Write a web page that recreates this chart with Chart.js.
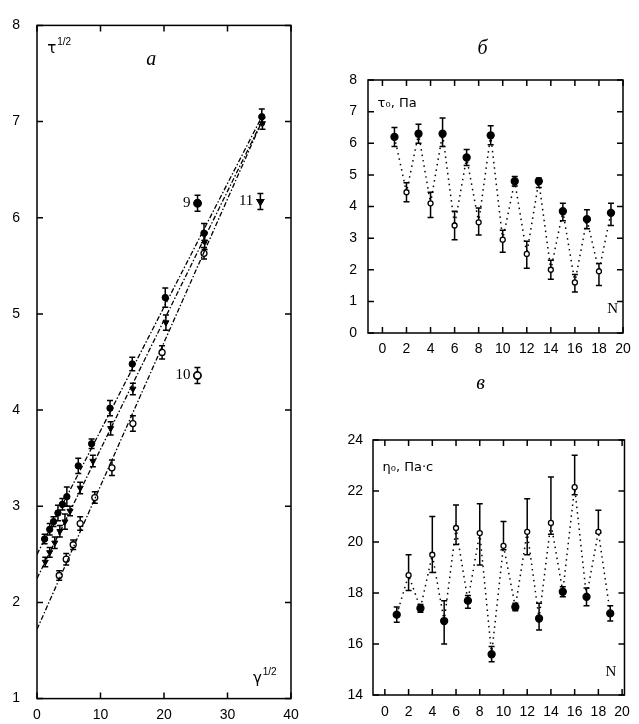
<!DOCTYPE html>
<html>
<head>
<meta charset="utf-8">
<script src="https://cdn.jsdelivr.net/npm/chart.js@4.4.0/dist/chart.umd.min.js"></script>
<style>
    html, body { margin: 0; padding: 0; background: #fff; }
    body { width: 639px; height: 724px; position: relative; overflow: hidden; }
    .panel { position: absolute; }
    #boxA { left: 0; top: 0; width: 310px; height: 724px; }
    #boxB { left: 330px; top: 0; width: 309px; height: 360px; }
    #boxC { left: 330px; top: 360px; width: 309px; height: 364px; }
</style>
</head>
<body>
<div class="panel" id="boxA"><canvas id="chartA"></canvas></div>
<div class="panel" id="boxB"><canvas id="chartB"></canvas></div>
<div class="panel" id="boxC"><canvas id="chartC"></canvas></div>
<script>
// panel a: tau^1/2 against gamma^1/2, three samples (9, 10, 11)
const xTicksA = [0, 10, 20, 30, 40];
const yTicksA = [1, 2, 3, 4, 5, 6, 7, 8];

const gamma9 = [1.2, 2.0, 2.6, 3.3, 4.0, 4.7, 6.5, 8.6, 11.5, 15.0, 20.2, 26.3, 35.4];
const tau9 = [2.66, 2.76, 2.84, 2.93, 3.02, 3.10, 3.42, 3.65, 4.02, 4.48, 5.17, 5.84, 7.05];
const err9 = [0.05, 0.06, 0.05, 0.08, 0.06, 0.10, 0.08, 0.05, 0.08, 0.07, 0.10, 0.10, 0.08];

const gamma11 = [1.3, 2.0, 2.8, 3.6, 4.4, 5.2, 6.8, 8.8, 11.6, 15.1, 20.3, 26.4, 35.5];
const tau11 = [2.42, 2.52, 2.62, 2.74, 2.84, 2.95, 3.19, 3.47, 3.81, 4.22, 4.91, 5.75, 6.98];
const err11 = [0.05, 0.05, 0.06, 0.06, 0.08, 0.05, 0.06, 0.06, 0.07, 0.06, 0.08, 0.08, 0.06];

const gamma10 = [3.5, 4.6, 5.7, 6.8, 9.1, 11.8, 15.1, 19.7, 26.3];
const tau10 = [2.28, 2.45, 2.60, 2.82, 3.09, 3.40, 3.86, 4.60, 5.63];
const err10 = [0.05, 0.06, 0.05, 0.07, 0.06, 0.08, 0.08, 0.07, 0.06];

const fitX = [0, 35.4];
const fit9 = [2.50, 7.05];
const fit11 = [2.25, 7.00];
const fit10 = [1.72, 7.00];

// panel б: tau0 against N
const nTicks = [0, 2, 4, 6, 8, 10, 12, 14, 16, 18, 20];
const yTicksB = [0, 1, 2, 3, 4, 5, 6, 7, 8];
const nValues = [1, 2, 3, 4, 5, 6, 7, 8, 9, 10, 11, 12, 13, 14, 15, 16, 17, 18, 19];
const tau0 = [6.2, 4.45, 6.3, 4.1, 6.3, 3.4, 5.55, 3.5, 6.25, 2.95, 4.8, 2.5, 4.8, 2.0, 3.85, 1.6, 3.6, 1.95, 3.8];
const tau0Up = [0.3, 0.3, 0.3, 0.35, 0.5, 0.45, 0.25, 0.45, 0.3, 0.3, 0.15, 0.4, 0.1, 0.3, 0.25, 0.25, 0.3, 0.25, 0.3];
const tau0Down = [0.3, 0.3, 0.3, 0.45, 0.4, 0.45, 0.25, 0.4, 0.3, 0.4, 0.15, 0.45, 0.2, 0.3, 0.3, 0.3, 0.3, 0.45, 0.4];

// panel в: eta0 against N
const yTicksC = [14, 16, 18, 20, 22, 24];
const eta0 = [17.15, 18.7, 17.4, 19.5, 16.9, 20.55, 17.7, 20.35, 15.6, 19.85, 17.45, 20.4, 17.0, 20.75, 18.05, 22.15, 17.85, 20.4, 17.2];
const eta0Up = [0.3, 0.8, 0.15, 1.5, 0.8, 0.9, 0.2, 1.15, 0.3, 0.95, 0.15, 1.3, 0.6, 1.8, 0.2, 1.25, 0.35, 0.85, 0.3];
const eta0Down = [0.3, 0.6, 0.15, 0.7, 0.9, 0.65, 0.3, 1.25, 0.3, 0.15, 0.15, 0.9, 0.45, 0.45, 0.2, 0.3, 0.35, 0.05, 0.3];

const toPoints = (xs, ys) => xs.map((x, i) => ({ x: x, y: ys[i] }));

const tickFont = { family: "'Liberation Sans', Arial, sans-serif", size: 14 };

// box around the plot area with inward ticks on all four sides
const framePlugin = {
    id: "frame",
    afterDraw(chart) {
        const ctx = chart.ctx;
        const a = chart.chartArea;
        const sx = chart.scales.x, sy = chart.scales.y;
        ctx.save();
        ctx.strokeStyle = "#000";
        ctx.lineWidth = 1.5;
        ctx.strokeRect(a.left, a.top, a.right - a.left, a.bottom - a.top);
        ctx.beginPath();
        sx.ticks.forEach(t => {
            const px = sx.getPixelForValue(t.value);
            ctx.moveTo(px, a.bottom); ctx.lineTo(px, a.bottom - 6);
            ctx.moveTo(px, a.top); ctx.lineTo(px, a.top + 6);
        });
        sy.ticks.forEach(t => {
            const py = sy.getPixelForValue(t.value);
            ctx.moveTo(a.left, py); ctx.lineTo(a.left + 6, py);
            ctx.moveTo(a.right, py); ctx.lineTo(a.right - 6, py);
        });
        ctx.stroke();
        ctx.restore();
    }
};

const errorBarPlugin = {
    id: "errorBars",
    beforeDatasetsDraw(chart) {
        const ctx = chart.ctx;
        const sx = chart.scales.x, sy = chart.scales.y;
        chart.data.datasets.forEach(ds => {
            if (!ds.errUp) return;
            const cap = ds.errCap || 3;
            ctx.save();
            ctx.strokeStyle = "#000";
            ctx.lineWidth = 1.5;
            ctx.beginPath();
            ds.data.forEach((p, j) => {
                const up = ds.errUp[j];
                const dn = ds.errDown ? ds.errDown[j] : up;
                const px = sx.getPixelForValue(p.x);
                const y1 = sy.getPixelForValue(p.y + up);
                const y2 = sy.getPixelForValue(p.y - dn);
                ctx.moveTo(px, y1); ctx.lineTo(px, y2);
                ctx.moveTo(px - cap, y1); ctx.lineTo(px + cap, y1);
                ctx.moveTo(px - cap, y2); ctx.lineTo(px + cap, y2);
            });
            ctx.stroke();
            ctx.restore();
        });
    }
};

// free text placed in data coordinates
const notesPlugin = {
    id: "notes",
    afterDraw(chart, args, opts) {
        const ctx = chart.ctx;
        const sx = chart.scales.x, sy = chart.scales.y;
        (opts.items || []).forEach(n => {
            const px = sx.getPixelForValue(n.x);
            const py = sy.getPixelForValue(n.y);
            ctx.save();
            ctx.fillStyle = "#000";
            ctx.font = n.font || "14px 'Liberation Sans', sans-serif";
            ctx.textAlign = "left";
            ctx.textBaseline = "middle";
            ctx.fillText(n.text, px, py);
            let w = ctx.measureText(n.text).width;
            if (n.sup) {
                ctx.font = "10px 'Liberation Sans', sans-serif";
                ctx.fillText(n.sup, px + w + 1, py - 7);
                w += ctx.measureText(n.sup).width + 1;
            }
            if (n.marker) {
                const mx = px + w + 7;
                ctx.strokeStyle = "#000";
                ctx.lineWidth = 1.5;
                ctx.beginPath();
                ctx.moveTo(mx, py - 8); ctx.lineTo(mx, py + 8);
                ctx.moveTo(mx - 3, py - 8); ctx.lineTo(mx + 3, py - 8);
                ctx.moveTo(mx - 3, py + 8); ctx.lineTo(mx + 3, py + 8);
                ctx.stroke();
                Chart.helpers.drawPoint(ctx, {
                    pointStyle: n.marker, radius: 3.5, rotation: n.rotation || 0,
                    borderWidth: 1.5
                }, mx, py);
                ctx.fillStyle = n.fill;
                ctx.strokeStyle = "#000";
                ctx.beginPath();
                Chart.helpers.drawPoint(ctx, {
                    pointStyle: n.marker, radius: 3.5, rotation: n.rotation || 0,
                    borderWidth: 1.5
                }, mx, py);
            }
            ctx.restore();
        });
    }
};

function makeOptions(box, xRange, yRange, xTicks, yTicks, items) {
    return {
        responsive: true,
        maintainAspectRatio: false,
        animation: false,
        layout: { padding: { top: box.top, right: box.right, left: 0, bottom: 0 } },
        plugins: {
            legend: { display: false },
            tooltip: { enabled: false },
            notes: { items: items }
        },
        scales: {
            x: {
                type: "linear",
                min: xRange[0],
                max: xRange[1],
                grid: { display: false, drawTicks: false },
                border: { display: false },
                afterBuildTicks: s => { s.ticks = xTicks.map(v => ({ value: v })); },
                afterFit: s => { s.height = box.bottom; },
                ticks: { font: tickFont, color: "#000", padding: box.xPad, maxRotation: 0, autoSkip: false }
            },
            y: {
                type: "linear",
                min: yRange[0],
                max: yRange[1],
                grid: { display: false, drawTicks: false },
                border: { display: false },
                afterBuildTicks: s => { s.ticks = yTicks.map(v => ({ value: v })); },
                afterFit: s => { s.width = box.left; },
                ticks: { font: tickFont, color: "#000", padding: box.yPad, autoSkip: false }
            }
        }
    };
}

document.addEventListener("DOMContentLoaded", function () {
    const plugins = [errorBarPlugin, framePlugin, notesPlugin];
    const dashDot = [5, 2, 1.5, 2];

    const fitLine = ys => ({
        type: "line",
        data: toPoints(fitX, ys),
        borderColor: "#000",
        borderWidth: 1.3,
        borderDash: dashDot,
        pointRadius: 0,
        fill: false
    });

    new Chart(document.getElementById("chartA"), {
        type: "scatter",
        data: {
            datasets: [
                fitLine(fit9),
                fitLine(fit11),
                fitLine(fit10),
                {
                    data: toPoints(gamma10, tau10),
                    errUp: err10,
                    pointStyle: "circle",
                    pointRadius: 3,
                    pointBackgroundColor: "#fff",
                    pointBorderColor: "#000",
                    pointBorderWidth: 1.3
                },
                {
                    data: toPoints(gamma11, tau11),
                    errUp: err11,
                    pointStyle: "triangle",
                    rotation: 180,
                    pointRadius: 3.5,
                    pointBackgroundColor: "#000",
                    pointBorderColor: "#000"
                },
                {
                    data: toPoints(gamma9, tau9),
                    errUp: err9,
                    pointStyle: "circle",
                    pointRadius: 3.2,
                    pointBackgroundColor: "#000",
                    pointBorderColor: "#000"
                }
            ]
        },
        options: makeOptions(
            { top: 20, right: 19, left: 37, bottom: 24, xPad: 8, yPad: 17 },
            [0, 40], [1, 8], xTicksA, yTicksA,
            [
                { x: 1.6, y: 7.75, text: "τ", sup: "1/2", font: "15px 'DejaVu Sans', sans-serif" },
                { x: 17.2, y: 7.64, text: "а", font: "italic 20px 'Liberation Serif', serif" },
                { x: 34.0, y: 1.2, text: "γ", sup: "1/2", font: "15px 'DejaVu Sans', sans-serif" },
                { x: 23.0, y: 6.15, text: "9", font: "15px 'Liberation Serif', serif", marker: "circle", fill: "#000" },
                { x: 31.8, y: 6.17, text: "11", font: "15px 'Liberation Serif', serif", marker: "triangle", rotation: 180, fill: "#000" },
                { x: 21.8, y: 4.36, text: "10", font: "15px 'Liberation Serif', serif", marker: "circle", fill: "#fff" }
            ]
        ),
        plugins: plugins
    });

    const zigzag = (ys, up, down) => ({
        type: "scatter",
        data: toPoints(nValues, ys),
        errUp: up,
        errDown: down,
        showLine: true,
        borderColor: "#000",
        borderWidth: 1.5,
        borderDash: [1.5, 4],
        pointStyle: "circle",
        pointRadius: c => (c.dataIndex % 2 === 0 ? 3.5 : 2.5),
        pointBackgroundColor: c => (c.dataIndex % 2 === 0 ? "#000" : "#fff"),
        pointBorderColor: "#000",
        pointBorderWidth: 1.3
    });

    new Chart(document.getElementById("chartB"), {
        type: "scatter",
        data: { datasets: [zigzag(tau0, tau0Up, tau0Down)] },
        options: makeOptions(
            { top: 80, right: 16, left: 38, bottom: 27, xPad: 8, yPad: 11 },
            [-1.2, 20], [0, 8], nTicks, yTicksB,
            [
                { x: 7.9, y: 9.0, text: "б", font: "italic 20px 'Liberation Serif', serif" },
                { x: -0.4, y: 7.25, text: "τ₀, Па", font: "13px 'DejaVu Sans', sans-serif" },
                { x: 18.7, y: 0.75, text: "N", font: "15px 'Liberation Serif', serif" }
            ]
        ),
        plugins: plugins
    });

    new Chart(document.getElementById("chartC"), {
        type: "scatter",
        data: { datasets: [zigzag(eta0, eta0Up, eta0Down)] },
        options: makeOptions(
            { top: 80, right: 12, left: 43, bottom: 29, xPad: 9, yPad: 10 },
            [-1, 20.2], [14, 24], nTicks, yTicksC,
            [
                { x: 7.7, y: 26.2, text: "в", font: "italic 20px 'Liberation Serif', serif" },
                { x: -0.2, y: 22.9, text: "η₀, Па·с", font: "13px 'DejaVu Sans', sans-serif" },
                { x: 18.6, y: 14.9, text: "N", font: "15px 'Liberation Serif', serif" }
            ]
        ),
        plugins: plugins
    });
});
</script>
</body>
</html>
